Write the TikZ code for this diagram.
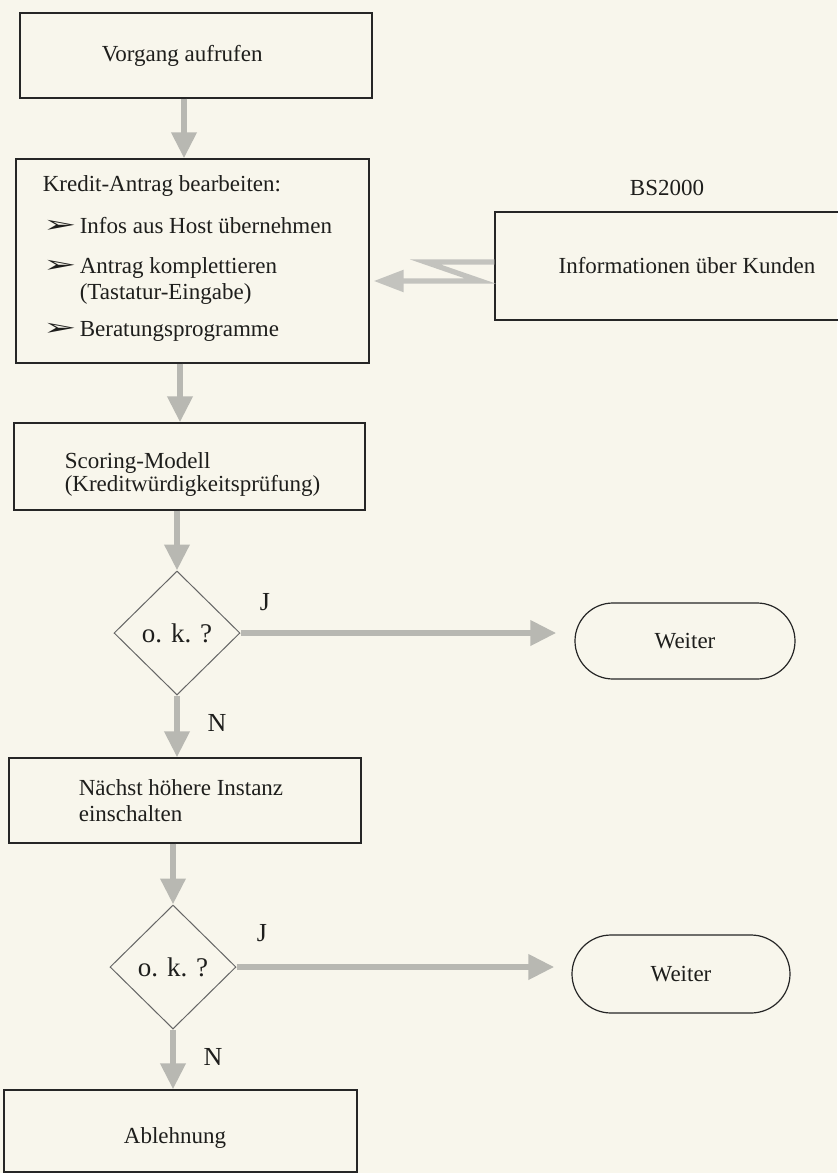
\documentclass[tikz,border=0pt]{standalone}
\usepackage{fontspec}
\setmainfont{Liberation Serif}
\newfontfamily\dingfont{DejaVu Sans}
\usepackage{graphicx}
\usetikzlibrary{arrows.meta,shapes.geometric,shapes.misc}
\definecolor{paperCream}{RGB}{248,246,236}
\definecolor{arrowGray}{RGB}{184,184,178}
\definecolor{inkDark}{RGB}{30,30,28}
\newcommand{\pfeil}{\makebox[18.5pt][l]{\raisebox{0.2pt}{\scalebox{1.75}[1.0]{\dingfont ➢}}}}

\begin{document}
\begin{tikzpicture}
[x=0.5pt,y=-0.5pt,
  font=\fontsize{11.5}{13}\selectfont,text=inkDark,
  boxDecorate/.style={shape=rectangle,draw=black!85,line width=0.6pt,inner sep=0pt},%
  diamondDecorate/.style={shape=diamond,draw=black!60,line width=0.5pt,inner sep=0pt,
    minimum width=63pt,minimum height=62pt,font=\fontsize{13.5}{15}\selectfont},%
  endDecorate/.style={shape=rounded rectangle,draw=black!85,line width=0.6pt,inner sep=0pt},%
  textDecorate/.style={anchor=west,align=left,inner sep=0pt},%
  labelDecorate/.style={inner sep=0pt,font=\fontsize{13}{15}\selectfont},%
  flowArrow/.style={draw=arrowGray,line width=3.4pt,-{Triangle[width=12pt,length=13pt]}},%
  zigArrow/.style={draw=arrowGray!85,line width=2.6pt,-{Triangle[width=10.5pt,length=15pt]}}]
%% paper
\fill[paperCream] (0,0) rectangle (837,1173);
\useasboundingbox (0,0) rectangle (837,1173);
%% boxes
\foreach \nodename/\x/\y/\w/\h in {vorgang/196/55.5/176/42.5, antrag/192.5/261/176.5/102,
    scoring/189.5/466.5/175.5/43.5, naechst/185/800.5/176/42.5,
    bsHost/687/266/192/54, ablehnung/180.5/1131/176.5/41} {
  \node (\nodename) at (\x,\y) [boxDecorate,minimum width=\w pt,minimum height=\h pt] {};
}
%% decisions and exits
\foreach \nodename/\x/\y in {okEins/177/633, okZwei/173/967} {
  \node (\nodename) at (\x,\y) [diamondDecorate] {o. k. ?};
}
\foreach \nodename/\x/\y/\w/\h in {weiterEins/685/641/110/38, weiterZwei/681/974/109/39} {
  \node (\nodename) at (\x,\y) [endDecorate,minimum width=\w pt,minimum height=\h pt] {Weiter};
}
%% texts in the boxes
\node (vorgangText) at ([xshift=41pt]vorgang.west) [textDecorate] {Vorgang aufrufen};
\node (antragText) at ([xshift=13.5pt,yshift=1.5pt]antrag.west) [textDecorate]
  {Kredit-Antrag bearbeiten:\\[8pt]
   \pfeil Infos aus Host übernehmen\\[7pt]
   \pfeil Antrag komplettieren\\
   \hspace*{18.5pt}(Tastatur-Eingabe)\\[5.5pt]
   \pfeil Beratungsprogramme};
\node (scoringText) at ([xshift=25.5pt,yshift=-4pt]scoring.west) [textDecorate,
  font=\fontsize{11.5}{11.7}\selectfont] {Scoring-Modell\\(Kreditwürdigkeitsprüfung)};
\node (naechstText) at ([xshift=35pt]naechst.west) [textDecorate] {Nächst höhere Instanz\\einschalten};
\node (bsText) at (bsHost.center) [inner sep=0pt] {Informationen über Kunden};
\node (ablehnungText) at ([xshift=-2.75pt,yshift=-3.5pt]ablehnung.center) [inner sep=0pt] {Ablehnung};
%% labels
\foreach \nodename/\x/\y/\txt in {jaEins/265/602/J, neinEins/217/723/N,
    jaZwei/262/933/J, neinZwei/213/1057/N} {
  \node (\nodename) at (\x,\y) [labelDecorate] {\txt};
}
\node (bsLabel) at (667,188) [inner sep=0pt] {BS2000};
%% connectors
\path
([xshift=-6pt]vorgang.south) edge[flowArrow] ([xshift=-4.25pt]antrag.north)
([xshift=-6.25pt]antrag.south) edge[flowArrow] ([xshift=-4.75pt]scoring.north)
([xshift=-6.25pt]scoring.south) edge[flowArrow] (okEins.north)
(okEins.south) edge[flowArrow] ([xshift=-4pt]naechst.north)
([xshift=-6pt]naechst.south) edge[flowArrow] (okZwei.north)
(okZwei.south) edge[flowArrow] ([xshift=-3.75pt]ablehnung.north)
(okEins.east) edge[flowArrow,shorten >=9pt] (okEins.east -| weiterEins.west)
(okZwei.east) edge[flowArrow,shorten >=8.5pt] (okZwei.east -| weiterZwei.west);
%% line from the host
\draw[zigArrow] ([yshift=2pt]bsHost.west) -- ++(-69,0) -- ++(55,19)
  -- ([xshift=2pt,yshift=-10pt]antrag.east);
\end{tikzpicture}
\end{document}
